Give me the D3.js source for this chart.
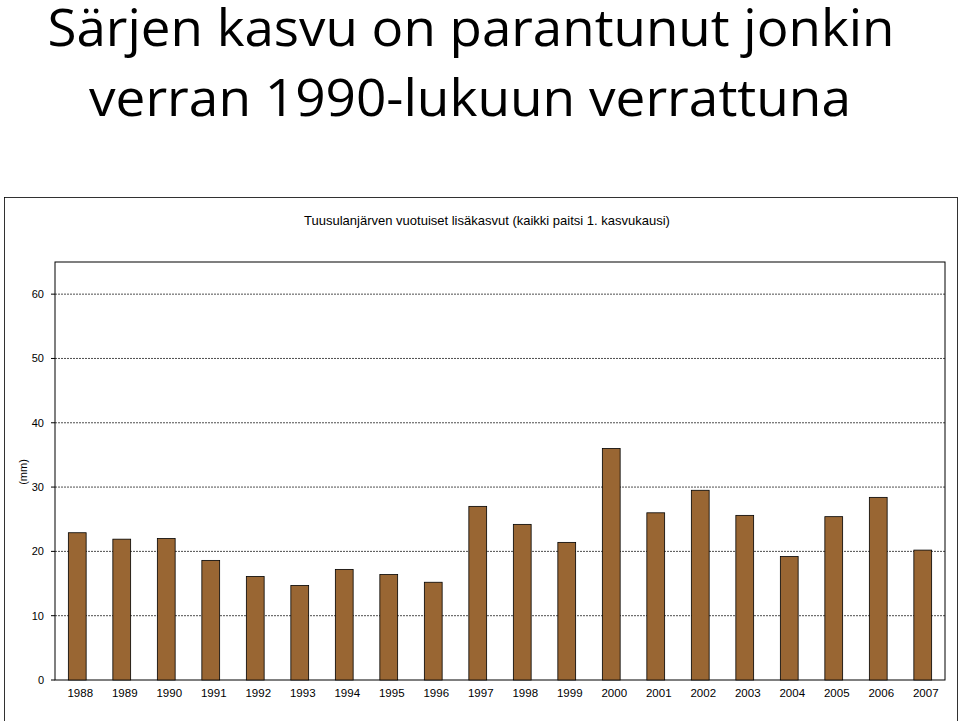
<!DOCTYPE html><html><head><meta charset="utf-8"><script src="https://cdn.jsdelivr.net/npm/d3@7"></script>
<style>body{margin:0;background:#fff}</style></head><body><svg id="c" width="960" height="721"></svg>
<script>
const years=["1988","1989","1990","1991","1992","1993","1994","1995","1996","1997","1998","1999","2000","2001","2002","2003","2004","2005","2006","2007"];
const values=[22.9,21.9,22.0,18.6,16.1,14.7,17.2,16.4,15.2,27.0,24.2,21.4,36.0,26.0,29.5,25.6,19.2,25.4,28.4,20.2];
const yTicks=[0,10,20,30,40,50,60];
const svg=d3.select("#c");
svg.append("text").attr("x",471).attr("y",46).attr("text-anchor","middle").attr("font-family","Open Sans").attr("font-size",52).attr("textLength",847).attr("lengthAdjust","spacingAndGlyphs").text("Särjen kasvu on parantunut jonkin");
svg.append("text").attr("x",470).attr("y",116).attr("text-anchor","middle").attr("font-family","Open Sans").attr("font-size",52).attr("textLength",762).attr("lengthAdjust","spacingAndGlyphs").text("verran 1990-lukuun verrattuna");
svg.append("rect").attr("x",4.5).attr("y",197.5).attr("width",953).attr("height",530).attr("fill","none").attr("stroke","#000").attr("stroke-width",0.8);
svg.append("text").attr("x",487).attr("y",225).attr("text-anchor","middle").attr("font-family","Liberation Sans").attr("font-size",13).text("Tuusulanjärven vuotuiset lisäkasvut (kaikki paitsi 1. kasvukausi)");
const L=55,R=945,T=262,B=680;
const x=d3.scaleBand().domain(years).range([L,R]).paddingInner(0.6).paddingOuter(0.3);
const y=d3.scaleLinear().domain([0,65]).range([B,T]);
svg.append("rect").attr("x",L).attr("y",T).attr("width",R-L).attr("height",B-T).attr("fill","none").attr("stroke","#000");
svg.selectAll(".g").data(yTicks.filter(d=>d>0)).join("line").attr("x1",L).attr("x2",R).attr("y1",d=>y(d)).attr("y2",d=>y(d)).attr("stroke","#000").attr("stroke-width",0.7).attr("stroke-dasharray","2,1");
svg.selectAll(".yl").data(yTicks).join("text").attr("x",44).attr("y",d=>y(d)+4).attr("text-anchor","end").attr("font-family","Liberation Sans").attr("font-size",11).text(d=>d);
svg.selectAll(".yt").data(yTicks).join("line").attr("x1",L-4).attr("x2",L).attr("y1",d=>y(d)).attr("y2",d=>y(d)).attr("stroke","#000");
svg.selectAll(".b").data(values).join("rect").attr("x",(d,i)=>x(years[i])).attr("width",x.bandwidth()).attr("y",d=>y(d)).attr("height",d=>B-y(d)).attr("fill","#996633").attr("stroke","#000").attr("stroke-width",0.8);
svg.selectAll(".xl").data(years).join("text").attr("x",d=>x(d)+x.bandwidth()/2+3).attr("y",697).attr("text-anchor","middle").attr("font-family","Liberation Sans").attr("font-size",11.5).text(d=>d);
svg.append("text").attr("transform","translate(27,472) rotate(-90)").attr("text-anchor","middle").attr("font-family","Liberation Sans").attr("font-size",11).text("(mm)");
</script></body></html>
